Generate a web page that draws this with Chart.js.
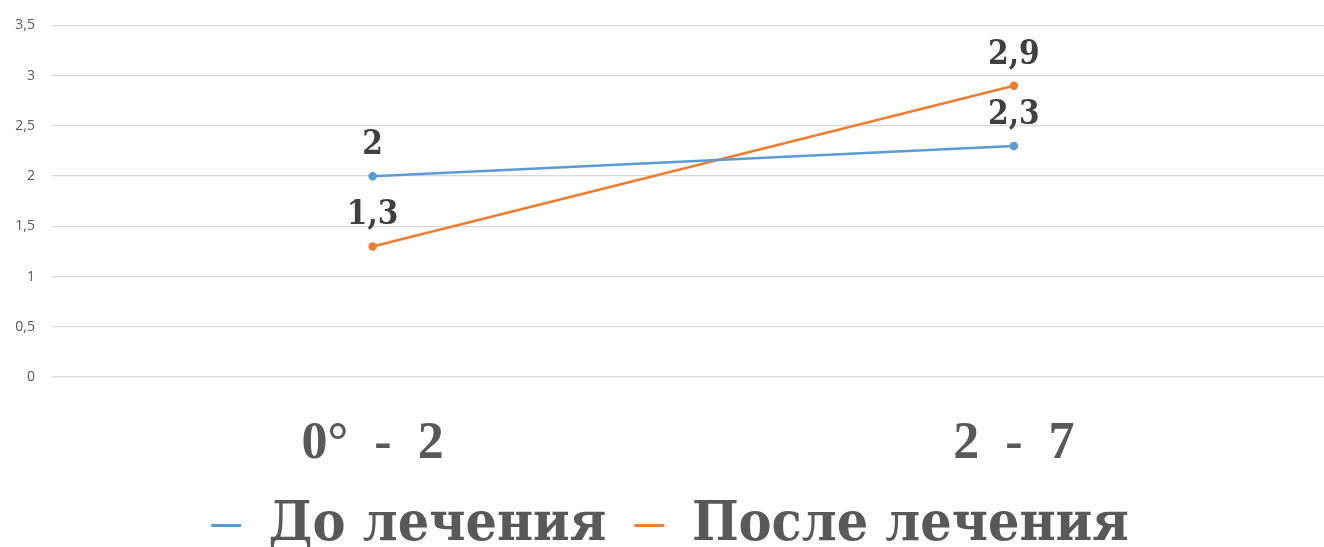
<!DOCTYPE html>
<html>
<head>
<meta charset="utf-8">
<script src="https://cdn.jsdelivr.net/npm/chart.js@4/dist/chart.umd.min.js"></script>
<style>
  html, body { margin: 0; padding: 0; background: #fff; overflow: hidden; }
</style>
</head>
<body>
<canvas id="lineChart" width="1340" height="547"></canvas>
<script>
// chart data
const categories = ['0°  -  2', '2  -  7'];
const beforeValues = [2, 2.3];
const afterValues = [1.3, 2.9];
const seriesNames = ['До лечения', 'После лечения'];
const yTicks = [0, 0.5, 1, 1.5, 2, 2.5, 3, 3.5];

const serif = '"DejaVu Serif Condensed", "DejaVu Serif", serif';
const fmt = v => String(v).replace('.', ',');

// draws value labels above each point
const valueLabels = {
    id: 'valueLabels',
    afterDatasetsDraw(chart) {
        const ctx = chart.ctx;
        ctx.save();
        ctx.font = 'bold 33px ' + serif;
        ctx.fillStyle = '#404040';
        ctx.textAlign = 'center';
        ctx.textBaseline = 'alphabetic';
        chart.data.datasets.forEach((ds, i) => {
            chart.getDatasetMeta(i).data.forEach((pt, j) => {
                ctx.fillText(fmt(ds.data[j]), pt.x, pt.y - 22);
            });
        });
        ctx.restore();
    }
};

// legend box shorter than its padding would make it, so the axis labels fit above
const legendHeight = {
    id: 'legendHeight',
    beforeInit(chart) {
        const fit = chart.legend.fit;
        chart.legend.fit = function () {
            fit.call(this);
            this.height = 77;
        };
    }
};

document.addEventListener('DOMContentLoaded', function () {
    const ctx = document.getElementById('lineChart').getContext('2d');
    new Chart(ctx, {
        type: 'line',
        data: {
            labels: categories,
            datasets: [{
                label: seriesNames[0],
                data: beforeValues,
                borderColor: '#5B9BD5',
                backgroundColor: '#5B9BD5',
                borderWidth: 2.5,
                pointRadius: 3,
                pointHoverRadius: 3
            }, {
                label: seriesNames[1],
                data: afterValues,
                borderColor: '#ED7D31',
                backgroundColor: '#ED7D31',
                borderWidth: 2.5,
                pointRadius: 3,
                pointHoverRadius: 3
            }]
        },
        options: {
            responsive: false,
            animation: false,
            layout: { padding: { top: 25.5, right: 0, left: 0, bottom: 0 } },
            plugins: {
                tooltip: { enabled: false },
                legend: {
                    position: 'bottom',
                    labels: {
                        color: '#595959',
                        font: { family: serif, size: 55, weight: 'bold' },
                        boxWidth: 30,
                        boxHeight: 3,
                        padding: 28,
                        generateLabels(chart) {
                            return chart.data.datasets.map((ds, i) => ({
                                text: ds.label,
                                fillStyle: ds.borderColor,
                                strokeStyle: ds.borderColor,
                                fontColor: '#595959',
                                lineWidth: 0,
                                datasetIndex: i
                            }));
                        }
                    }
                }
            },
            scales: {
                x: {
                    offset: true,
                    grid: { display: false },
                    border: { display: false },
                    ticks: {
                        color: '#595959',
                        font: { family: '"Liberation Serif", serif', size: 52, weight: 'bold' },
                        padding: 28
                    },
                    afterFit(scale) { scale.height = 93; }
                },
                y: {
                    min: 0,
                    max: 3.5,
                    afterBuildTicks(scale) { scale.ticks = yTicks.map(v => ({ value: v })); },
                    grid: { color: '#D9D9D9', lineWidth: 1.3, drawTicks: false },
                    border: { display: false },
                    ticks: {
                        color: '#595959',
                        font: { family: '"Open Sans", sans-serif', size: 14 },
                        padding: 17,
                        callback: v => fmt(v)
                    },
                    afterFit(scale) { scale.width = 52; }
                }
            }
        },
        plugins: [valueLabels, legendHeight]
    });
});
</script>
</body>
</html>
